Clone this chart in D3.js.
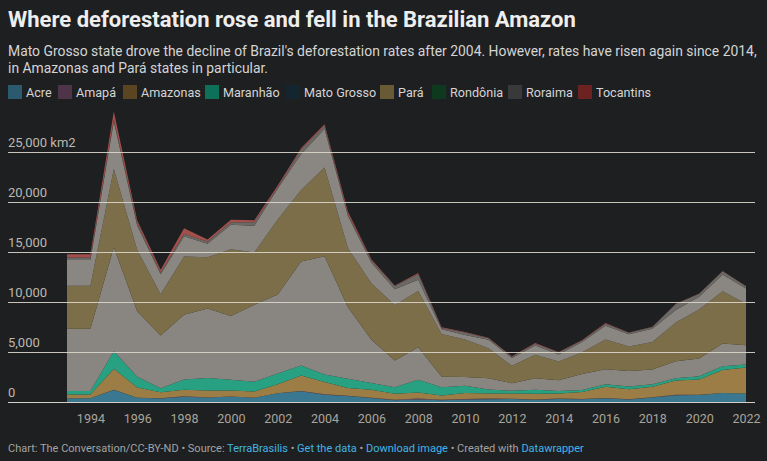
<!DOCTYPE html>
<html><head><meta charset="utf-8">
<script src="https://cdn.jsdelivr.net/npm/d3@7"></script>
<style>
html,body{margin:0;padding:0;background:#1e1f21;}
svg{display:block;font-family:Roboto,"Noto Sans",sans-serif;}
</style></head>
<body>
<script>
const years = d3.range(1993, 2023);
const states = ["Acre","Amapá","Amazonas","Maranhão","Mato Grosso","Pará","Rondônia","Roraima","Tocantins"];
const acre = [370,370,1208,433,358,536,441,547,419,883,1078,728,592,398,184,254,167,259,280,305,221,309,264,372,257,444,682,706,889,847];
const amapa = [0,0,9,0,18,30,0,0,7,0,25,46,33,30,39,100,70,53,66,27,23,31,25,17,24,24,32,24,17,6];
const amazonas = [370,370,2114,1023,589,670,720,612,634,885,1558,1232,775,788,610,604,405,595,502,523,583,500,712,1129,1001,1045,1434,1512,2306,2607];
const maranhao = [372,372,1745,1061,409,1012,1230,1065,958,1085,993,755,922,674,631,1271,828,712,396,269,403,257,209,258,265,253,237,336,363,282];
const matoGrosso = [6220,6220,10391,6543,5271,6466,6963,6369,7703,7892,10405,11814,7145,4333,2678,3258,1049,871,1120,757,1139,1075,1601,1489,1561,1490,1702,1779,2263,1927];
const para = [4284,4284,7845,6135,4139,5829,5111,6671,5237,7510,7145,8870,5899,5659,5526,5607,4281,3770,3008,1741,2346,1887,2153,2992,2433,2744,3862,4899,5238,4162];
const rondonia = [2595,2595,4730,2432,1986,2041,1358,2465,2673,3099,3597,3858,3244,2049,1611,1136,482,435,865,773,932,684,1030,1376,1243,1316,1257,1273,1673,1512];
const roraima = [240,240,220,214,184,223,220,253,345,84,439,311,133,231,309,574,121,256,141,124,170,219,156,202,132,195,590,297,315,240];
const tocantins = [333,333,797,320,273,576,216,244,189,212,156,158,271,124,63,107,61,49,40,52,74,50,57,58,31,25,23,25,37,27];
const seriesValues = [acre, amapa, amazonas, maranhao, matoGrosso, para, rondonia, roraima, tocantins];
const yTicks = [0,5000,10000,15000,20000,25000];
const xTicks = d3.range(1994, 2023, 2);

const legendColors = ["#2b5a6e","#4e3448","#5a4421","#0f7059","#13262f","#685a35","#0d3a1f","#38393b","#6b2220"];
const areaColors = ["#3a7891","#7a5a70","#9b7d45","#28a183","#898681","#7b6e48","#8a8782","#6b6965","#a3504c"];

const W = 767, H = 461;
const svg = d3.select("body").append("svg").attr("width", W).attr("height", H);

// title
svg.append("text").attr("x", 8).attr("y", 27).attr("fill", "#eeeeee")
  .attr("font-size", 22).attr("font-weight", 700).text("Where deforestation rose and fell in the Brazilian Amazon");
svg.append("text").attr("x", 8).attr("y", 56).attr("fill", "#d4d4d4").attr("font-size", 13.9)
  .text("Mato Grosso state drove the decline of Brazil's deforestation rates after 2004. However, rates have risen again since 2014,");
svg.append("text").attr("x", 8).attr("y", 73).attr("fill", "#d4d4d4").attr("font-size", 13.9)
  .text("in Amazonas and Pará states in particular.");

// legend
const legendX = [8,58,123,205,286,380,432,508,578];
const lg = svg.append("g");
states.forEach((s,i)=>{
  lg.append("rect").attr("x", legendX[i]).attr("y", 85).attr("width", 14).attr("height", 14).attr("fill", legendColors[i]);
  lg.append("text").attr("x", legendX[i]+18).attr("y", 97).attr("fill", "#d4d4d4").attr("font-size", 12.6).text(s);
});

// scales
const x = d3.scaleLinear().domain([1993, 2022]).range([67, 746]);
const y = d3.scaleLinear().domain([0, 25000]).range([402, 152]);

const table = years.map((yr,i)=>{
  const o = {year: yr};
  states.forEach((s,k)=> o[s] = seriesValues[k][i]);
  return o;
});
const stack = d3.stack().keys(states)(table);
const area = d3.area().x(d=>x(d.data.year)).y0(d=>y(d[0])).y1(d=>y(d[1]));

svg.append("g").selectAll("path").data(stack).join("path")
  .attr("d", area).attr("fill", (d,i)=>areaColors[i]);

// gridlines on top
const grid = svg.append("g");
yTicks.forEach(t=>{
  grid.append("line").attr("x1", 8).attr("x2", 755).attr("y1", Math.round(y(t))+0.5).attr("y2", Math.round(y(t))+0.5)
    .attr("stroke", t===0 ? "#e8e4da" : "#ddd8cc").attr("stroke-width", 1).attr("opacity", 0.9);
  grid.append("text").attr("x", 8).attr("y", y(t)-5).attr("fill", "#bdb8ae").attr("font-size", 13)
    .text(d3.format(",")(t) + (t===25000 ? " km2" : ""));
});

// x axis
const xAxis = svg.append("g").attr("transform", "translate(0,402)")
  .call(d3.axisBottom(x).tickValues(xTicks).tickFormat(d3.format("d")).tickSize(0).tickPadding(12));
xAxis.select(".domain").remove();
xAxis.selectAll("text").attr("fill", "#aaa59b").attr("font-size", 12.5).attr("font-family", "Roboto");

// footer
const foot = svg.append("text").attr("x", 8).attr("y", 452).attr("font-size", 11).attr("fill", "#a3a3a3");
const parts = [["Chart: The Conversation/CC-BY-ND • Source: ", false],["TerraBrasilis", true],[" • ", false],["Get the data", true],[" • ", false],["Download image", true],[" • Created with ", false],["Datawrapper", true]];
parts.forEach(p=> foot.append("tspan").attr("fill", p[1] ? "#41b6e6" : "#a3a3a3").text(p[0]));
</script>
</body></html>
